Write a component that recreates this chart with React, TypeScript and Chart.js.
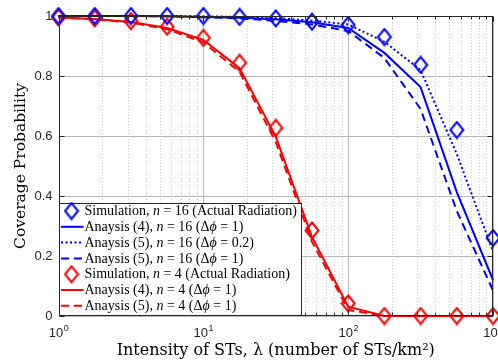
import React, { useEffect, useRef } from "react";
import { Chart, registerables } from "chart.js";

Chart.register(...registerables);

// ---------- data ----------
const xValues = [1, 1.778, 3.162, 5.623, 10, 17.78, 31.62, 56.23, 100, 177.8, 316.2, 562.3, 1000];

const sim16 = [1, 1, 1, 1, 1, 0.997, 0.992, 0.981, 0.97, 0.93, 0.837, 0.62, 0.26];
const ana4n16 = [1, 1, 1, 0.999, 0.997, 0.994, 0.989, 0.979, 0.96, 0.877, 0.763, 0.413, 0.12];
const ana5n16d02 = [1, 1, 1, 1, 0.999, 0.997, 0.993, 0.985, 0.972, 0.914, 0.82, 0.54, 0.215];
const ana5n16d1 = [1, 1, 1, 0.999, 0.996, 0.992, 0.984, 0.972, 0.95, 0.86, 0.69, 0.35, 0.085];

const sim4 = [0.995, 0.992, 0.983, 0.964, 0.927, 0.844, 0.627, 0.285, 0.042, 0, 0, 0, 0];
const ana4n4 = [0.995, 0.99, 0.98, 0.96, 0.92, 0.826, 0.598, 0.264, 0.031, 0, 0, 0, 0];
const ana5n4 = [0.995, 0.989, 0.978, 0.956, 0.912, 0.814, 0.58, 0.248, 0.02, 0, 0, 0, 0];

const yTicks = [0, 0.2, 0.4, 0.6, 0.8, 1];
const yTickLabels = ["0", "0.2", "0.4", "0.6", "0.8", "1"];
const xTicks = [1, 10, 100, 1000];
const xTickBase = "10";
const xTickExponents = ["0", "1", "2", "3"];
const xMinorMultipliers = [2, 3, 4, 5, 6, 7, 8, 9];

const xTitle = "Intensity of STs, \u03bb (number of STs/km\u00b2)";
const yTitle = "Coverage Probability";

// *...* marks italic math symbols
const legendLabels = [
  "Simulation, *n* = 16 (Actual Radiation)",
  "Anaysis (4), *n* = 16 (\u0394*\u03d5* = 1)",
  "Anaysis (5), *n* = 16 (\u0394*\u03d5* = 0.2)",
  "Anaysis (5), *n* = 16 (\u0394*\u03d5* = 1)",
  "Simulation, *n* = 4 (Actual Radiation)",
  "Anaysis (4), *n* = 4 (\u0394*\u03d5* = 1)",
  "Anaysis (5), *n* = 4 (\u0394*\u03d5* = 1)",
];

const BLUE = "#0000ff";
const RED = "#ff0000";
const AXIS = "#262626";
const SERIF = "'Liberation Serif', 'DejaVu Serif', serif";
const TITLE_SERIF = "'DejaVu Serif', 'Liberation Serif', serif";
const SANS = "'Liberation Sans', Arial, sans-serif";

function makeDiamond(color: string): HTMLCanvasElement {
  const w = 16, h = 19;
  const c = document.createElement("canvas");
  c.width = w;
  c.height = h;
  const g = c.getContext("2d")!;
  g.strokeStyle = color;
  g.lineWidth = 2;
  g.beginPath();
  g.moveTo(w / 2, 1.5);
  g.lineTo(w - 1.5, h / 2);
  g.lineTo(w / 2, h - 1.5);
  g.lineTo(1.5, h / 2);
  g.closePath();
  g.stroke();
  return c;
}

function toXY(vals: number[]) {
  return vals.map((v, i) => ({ x: xValues[i], y: v }));
}

function drawRich(ctx: CanvasRenderingContext2D, text: string, x: number, y: number, size: number) {
  const parts = text.split("*");
  let cx = x;
  parts.forEach((p, i) => {
    if (!p) return;
    ctx.font = (i % 2 === 1 ? "italic " : "") + size + "px " + SERIF;
    ctx.fillText(p, cx, y);
    cx += ctx.measureText(p).width;
  });
}

const matlabPlugin = {
  id: "matlabAxes",
  beforeDatasetsDraw(chart: any) {
    const { ctx, chartArea: a, scales } = chart;
    const xs = scales.x, ys = scales.y;
    ctx.save();
    ctx.lineWidth = 1;
    ctx.strokeStyle = "#cfcfcf";
    ctx.setLineDash([1, 2]);
    for (let d = 0; d < xTicks.length - 1; d++) {
      for (const m of xMinorMultipliers) {
        const px = Math.round(xs.getPixelForValue(xTicks[d] * m)) + 0.5;
        ctx.beginPath();
        ctx.moveTo(px, a.top);
        ctx.lineTo(px, a.bottom);
        ctx.stroke();
      }
    }
    ctx.setLineDash([]);
    ctx.strokeStyle = "#b9b9b9";
    for (const v of xTicks) {
      const px = Math.round(xs.getPixelForValue(v)) + 0.5;
      ctx.beginPath();
      ctx.moveTo(px, a.top);
      ctx.lineTo(px, a.bottom);
      ctx.stroke();
    }
    for (const v of yTicks) {
      const py = Math.round(ys.getPixelForValue(v)) + 0.5;
      ctx.beginPath();
      ctx.moveTo(a.left, py);
      ctx.lineTo(a.right, py);
      ctx.stroke();
    }
    ctx.restore();
  },
  afterDatasetsDraw(chart: any) {
    const { ctx, chartArea: a, scales } = chart;
    const xs = scales.x, ys = scales.y;
    ctx.save();
    ctx.strokeStyle = AXIS;
    ctx.lineWidth = 1;
    const L = Math.round(a.left) + 0.5, R = Math.round(a.right) - 0.5;
    const T = Math.round(a.top) + 0.5, B = Math.round(a.bottom) - 0.5;
    const tick = (x1: number, y1: number, x2: number, y2: number) => {
      ctx.beginPath();
      ctx.moveTo(x1, y1);
      ctx.lineTo(x2, y2);
      ctx.stroke();
    };
    ctx.strokeRect(L, T, R - L, B - T);
    for (const v of xTicks) {
      const px = Math.round(xs.getPixelForValue(v)) + 0.5;
      tick(px, B, px, B - 5);
      tick(px, T, px, T + 5);
    }
    for (let d = 0; d < xTicks.length - 1; d++) {
      for (const m of xMinorMultipliers) {
        const px = Math.round(xs.getPixelForValue(xTicks[d] * m)) + 0.5;
        tick(px, B, px, B - 3);
        tick(px, T, px, T + 3);
      }
    }
    for (const v of yTicks) {
      const py = Math.round(ys.getPixelForValue(v)) + 0.5;
      tick(L, py, L + 5, py);
      tick(R, py, R - 5, py);
    }

    // x tick labels: 10 with raised exponent
    ctx.fillStyle = AXIS;
    ctx.textBaseline = "alphabetic";
    ctx.textAlign = "left";
    xTicks.forEach((v, i) => {
      const px = xs.getPixelForValue(v);
      ctx.font = "13px " + SANS;
      const wb = ctx.measureText(xTickBase).width;
      ctx.font = "9px " + SANS;
      const we = ctx.measureText(xTickExponents[i]).width;
      const x0 = px - (wb + we) / 2;
      ctx.font = "13px " + SANS;
      ctx.fillText(xTickBase, x0, 337);
      ctx.font = "9px " + SANS;
      ctx.fillText(xTickExponents[i], x0 + wb + 0.5, 331);
    });

    // legend box
    const lx = L, ly = 203.5, lw = 242, lh = B - ly;
    ctx.fillStyle = "#ffffff";
    ctx.fillRect(lx, ly, lw, lh);
    ctx.strokeRect(lx, ly, lw, lh);
    ctx.restore();

    ctx.save();
    const rowStart = 211;
    const rowStep = 15.8;
    chart.data.datasets.forEach((ds: any, i: number) => {
      const cy = rowStart + i * rowStep;
      if (ds.showLine === false) {
        const img = ds.pointStyle as HTMLCanvasElement;
        ctx.drawImage(img, 71.5 - img.width / 2, cy - img.height / 2);
      } else {
        ctx.strokeStyle = ds.borderColor;
        ctx.lineWidth = ds.borderWidth;
        ctx.setLineDash(ds.borderDash || []);
        ctx.beginPath();
        ctx.moveTo(61, cy);
        ctx.lineTo(83.5, cy);
        ctx.stroke();
        ctx.setLineDash([]);
      }
      ctx.fillStyle = "#000000";
      ctx.textBaseline = "middle";
      ctx.textAlign = "left";
      drawRich(ctx, ds.label, 84.5, cy + 0.5, 14);
    });
    ctx.restore();
  },
};

export default function App() {
  const canvasRef = useRef<HTMLCanvasElement | null>(null);

  useEffect(() => {
    if (!canvasRef.current) return;
    const blueDiamond = makeDiamond(BLUE);
    const redDiamond = makeDiamond(RED);
    const lineBase = { pointRadius: 0, borderWidth: 2, clip: false as any, tension: 0, fill: false };
    const chart = new Chart(canvasRef.current, {
      type: "line",
      data: {
        datasets: [
          { label: legendLabels[0], data: toXY(sim16), showLine: false, pointStyle: blueDiamond as any, pointRadius: 8, borderColor: BLUE, backgroundColor: "transparent", clip: false as any },
          { label: legendLabels[1], data: toXY(ana4n16), borderColor: BLUE, borderDash: [], ...lineBase },
          { label: legendLabels[2], data: toXY(ana5n16d02), borderColor: BLUE, borderDash: [2, 2.5], ...lineBase },
          { label: legendLabels[3], data: toXY(ana5n16d1), borderColor: BLUE, borderDash: [8, 5], ...lineBase },
          { label: legendLabels[4], data: toXY(sim4), showLine: false, pointStyle: redDiamond as any, pointRadius: 8, borderColor: RED, backgroundColor: "transparent", clip: false as any },
          { label: legendLabels[5], data: toXY(ana4n4), borderColor: RED, borderDash: [], ...lineBase },
          { label: legendLabels[6], data: toXY(ana5n4), borderColor: RED, borderDash: [8, 5], ...lineBase },
        ] as any,
      },
      options: {
        animation: false,
        responsive: true,
        maintainAspectRatio: false,
        events: [],
        layout: { autoPadding: false, padding: { top: 16, right: 5, left: 0, bottom: 0 } },
        plugins: { legend: { display: false }, tooltip: { enabled: false } },
        scales: {
          x: {
            type: "logarithmic",
            min: 1,
            max: 1000,
            afterBuildTicks: (s: any) => {
              s.ticks = xTicks.map((v) => ({ value: v }));
            },
            afterFit: (s: any) => {
              s.height = 44;
              s.paddingLeft = 0;
              s.paddingRight = 0;
            },
            grid: { display: false, drawTicks: false },
            border: { display: false },
            ticks: { display: false },
            title: {
              display: true,
              text: xTitle,
              color: "#000000",
              font: { family: TITLE_SERIF, size: 16, lineHeight: 1 },
              padding: { top: 0, bottom: 1 },
            },
          },
          y: {
            min: 0,
            max: 1,
            afterBuildTicks: (s: any) => {
              s.ticks = yTicks.map((v) => ({ value: v }));
            },
            afterFit: (s: any) => {
              s.width = 58.5;
              s.paddingTop = 0;
              s.paddingBottom = 0;
            },
            grid: { display: false, drawTicks: false },
            border: { display: false },
            ticks: {
              padding: 6,
              color: AXIS,
              font: { family: SANS, size: 13 },
              callback: (v: any) => {
                const i = yTicks.findIndex((t) => Math.abs(t - Number(v)) < 1e-9);
                return i >= 0 ? yTickLabels[i] : "";
              },
            },
            title: {
              display: true,
              text: yTitle,
              color: "#000000",
              font: { family: TITLE_SERIF, size: 15.5, lineHeight: 1 },
              padding: { top: 13, bottom: 0 },
            },
          },
        },
      },
      plugins: [matlabPlugin as any],
    });
    return () => chart.destroy();
  }, []);

  return (
    <div style={{ position: "fixed", left: 0, top: 0, width: 498, height: 360, background: "#ffffff" }}>
      <canvas ref={canvasRef} />
    </div>
  );
}
